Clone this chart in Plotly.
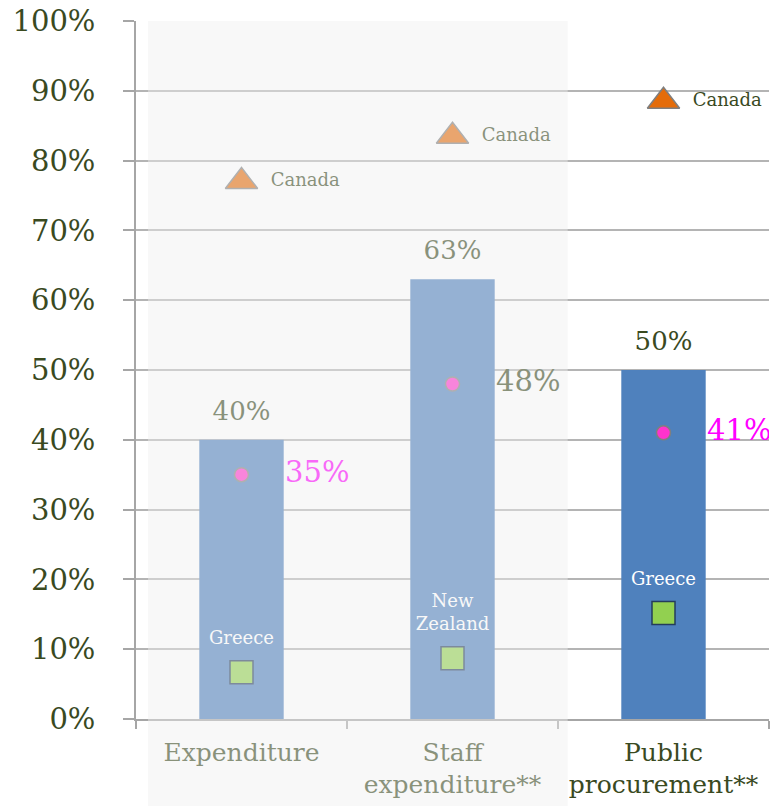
import plotly.graph_objects as go

# Categories and series values (percent)
categories = ["Expenditure", "Staff expenditure**", "Public procurement**"]
tick_labels = ["Expenditure", "Staff<br>expenditure**", "Public<br>procurement**"]
share_values = [40, 63, 50]            # bars
average_values = [35, 48, 41]          # pink dots
max_values = [77.0, 83.5, 88.5]        # triangles
max_countries = ["Canada", "Canada", "Canada"]
min_values = [6.7, 8.7, 15.2]          # squares
min_countries = ["Greece", "New<br>Zealand", "Greece"]

FONT = "DejaVu Serif"
OLIVE = "#3a4a1f"
GRID = "#b4b4b4"

fig = go.Figure()

# Bars
fig.add_trace(go.Bar(
    x=categories, y=share_values, width=0.4,
    marker=dict(color="#4f81bd", line=dict(width=0)),
    hoverinfo="skip",
))

# Value labels above the bars
fig.add_trace(go.Scatter(
    x=categories, y=share_values, mode="markers+text",
    marker=dict(size=20, color="rgba(0,0,0,0)"),
    texttemplate="%{y:.0f}%", textposition="top center",
    textfont=dict(family=FONT, size=26, color=OLIVE),
    hoverinfo="skip",
))

# Average dots with their labels
fig.add_trace(go.Scatter(
    x=categories, y=average_values, mode="markers",
    marker=dict(size=14, color="#ff33cc", line=dict(color="#7f7f7f", width=1.5)),
    hoverinfo="skip",
))
fig.add_trace(go.Scatter(
    x=categories, y=average_values, mode="markers+text",
    marker=dict(size=68, color="rgba(0,0,0,0)"),
    texttemplate="%{y:.0f}%", textposition="middle right",
    textfont=dict(family=FONT, size=29, color=["#ff00ff", OLIVE, "#ff00ff"]),
    hoverinfo="skip",
))

# Maximum (triangles) with country names
fig.add_trace(go.Scatter(
    x=categories, y=max_values, mode="markers",
    marker=dict(symbol="triangle-up", size=28, color="#e46c0a",
                line=dict(color="#7f7f7f", width=1.5)),
    hoverinfo="skip",
))
fig.add_trace(go.Scatter(
    x=categories, y=max_values, mode="markers+text",
    marker=dict(size=45, color="rgba(0,0,0,0)"),
    text=max_countries, textposition="middle right",
    textfont=dict(family=FONT, size=18, color=OLIVE),
    hoverinfo="skip",
))

# Minimum (squares) with country names
fig.add_trace(go.Scatter(
    x=categories, y=min_values, mode="markers",
    marker=dict(symbol="square", size=23, color="#92d050",
                line=dict(color="#243c5c", width=1.5)),
    hoverinfo="skip",
))
fig.add_trace(go.Scatter(
    x=categories, y=min_values, mode="markers+text",
    marker=dict(size=36, color="rgba(0,0,0,0)"),
    text=min_countries, textposition="top center",
    textfont=dict(family=FONT, size=18, color="white"),
    hoverinfo="skip",
))

# Fade the first two categories with a translucent overlay
fig.add_shape(
    type="rect", xref="paper", yref="paper",
    x0=0.019, x1=0.682, y0=-0.13, y1=1.0,
    fillcolor="rgba(240,240,240,0.44)", line=dict(width=0),
    layer="above",
)

fig.update_layout(
    width=771, height=806,
    margin=dict(l=136, r=2, t=21, b=87),
    plot_bgcolor="white", paper_bgcolor="white",
    showlegend=False, bargap=0.6,
    font=dict(family=FONT, color=OLIVE),
)
fig.update_xaxes(
    type="category", categoryorder="array", categoryarray=categories,
    tickvals=categories, ticktext=tick_labels,
    range=[-0.5, 2.5],
    showline=True, linecolor="#a6a6a6", linewidth=1.5,
    ticks="outside", tickson="boundaries", ticklen=8, tickcolor="#a6a6a6", tickwidth=1.5,
    tickfont=dict(family=FONT, size=25, color=OLIVE),
    ticklabelstandoff=10,
    showgrid=False, zeroline=False,
)
fig.update_yaxes(
    range=[0, 100], dtick=10, ticksuffix="%",
    showline=True, linecolor="#a6a6a6", linewidth=1.5,
    ticks="outside", ticklen=11, tickcolor="#a6a6a6", tickwidth=1.5,
    tickfont=dict(family=FONT, size=29, color=OLIVE),
    ticklabelstandoff=22,
    showgrid=True, gridcolor=GRID, gridwidth=1.5,
    zeroline=False,
)

fig.write_html("out.html")
